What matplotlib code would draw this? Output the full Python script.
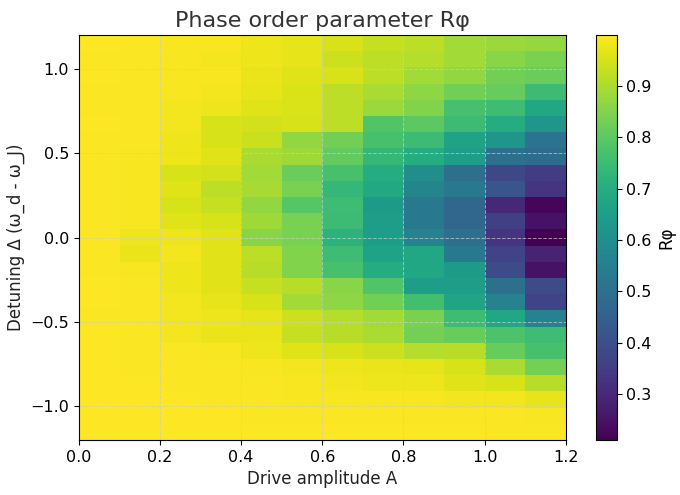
import numpy as np
import matplotlib
matplotlib.use("Agg")
from matplotlib import pyplot as plt

# drive amplitude A (12 columns) and detuning (25 rows), extent of the image
a_min, a_max = 0.0, 1.2
d_min, d_max = -1.2, 1.2

# R_phi, rows listed from top (detuning = +1.15) down to bottom (detuning = -1.15)
R = [
	[0.998, 0.995, 0.990, 0.990, 0.980, 0.970, 0.950, 0.930, 0.920, 0.890, 0.880, 0.875],
	[0.995, 0.995, 0.990, 0.985, 0.980, 0.970, 0.940, 0.920, 0.910, 0.890, 0.860, 0.840],
	[0.998, 0.995, 0.990, 0.990, 0.975, 0.960, 0.950, 0.920, 0.890, 0.870, 0.830, 0.820],
	[0.995, 0.995, 0.990, 0.985, 0.970, 0.955, 0.920, 0.900, 0.865, 0.830, 0.815, 0.750],
	[0.995, 0.993, 0.985, 0.980, 0.960, 0.955, 0.920, 0.880, 0.850, 0.770, 0.755, 0.680],
	[0.998, 0.995, 0.985, 0.950, 0.945, 0.950, 0.920, 0.785, 0.800, 0.750, 0.700, 0.620],
	[0.995, 0.993, 0.980, 0.950, 0.935, 0.870, 0.830, 0.770, 0.750, 0.665, 0.620, 0.510],
	[0.995, 0.990, 0.980, 0.960, 0.900, 0.885, 0.810, 0.735, 0.700, 0.650, 0.500, 0.490],
	[0.995, 0.990, 0.950, 0.945, 0.890, 0.820, 0.770, 0.700, 0.600, 0.500, 0.380, 0.350],
	[0.995, 0.990, 0.960, 0.920, 0.895, 0.840, 0.735, 0.690, 0.570, 0.530, 0.420, 0.330],
	[0.995, 0.990, 0.950, 0.930, 0.870, 0.790, 0.755, 0.640, 0.530, 0.470, 0.300, 0.220],
	[0.995, 0.990, 0.960, 0.950, 0.885, 0.840, 0.750, 0.650, 0.530, 0.470, 0.360, 0.250],
	[0.995, 0.980, 0.980, 0.965, 0.860, 0.840, 0.720, 0.650, 0.560, 0.500, 0.330, 0.210],
	[0.995, 0.975, 0.985, 0.965, 0.920, 0.850, 0.755, 0.665, 0.680, 0.530, 0.370, 0.290],
	[0.995, 0.990, 0.980, 0.960, 0.915, 0.850, 0.770, 0.700, 0.680, 0.640, 0.390, 0.250],
	[0.998, 0.993, 0.980, 0.965, 0.930, 0.915, 0.860, 0.785, 0.650, 0.650, 0.500, 0.390],
	[0.998, 0.993, 0.985, 0.970, 0.950, 0.890, 0.865, 0.830, 0.760, 0.670, 0.560, 0.370],
	[0.995, 0.993, 0.985, 0.980, 0.970, 0.940, 0.910, 0.890, 0.840, 0.755, 0.680, 0.560],
	[0.998, 0.993, 0.985, 0.975, 0.975, 0.930, 0.915, 0.900, 0.835, 0.815, 0.780, 0.755],
	[0.998, 0.995, 0.993, 0.990, 0.980, 0.960, 0.950, 0.940, 0.910, 0.915, 0.815, 0.770],
	[0.997, 0.995, 0.995, 0.995, 0.990, 0.985, 0.980, 0.975, 0.970, 0.950, 0.900, 0.835],
	[0.997, 0.997, 0.995, 0.995, 0.993, 0.990, 0.985, 0.980, 0.980, 0.965, 0.950, 0.915],
	[0.998, 0.997, 0.997, 0.995, 0.995, 0.990, 0.990, 0.990, 0.990, 0.985, 0.985, 0.970],
	[0.998, 0.998, 0.997, 0.997, 0.995, 0.995, 0.995, 0.995, 0.995, 0.993, 0.993, 0.990],
	[0.999, 0.998, 0.998, 0.998, 0.997, 0.997, 0.997, 0.997, 0.997, 0.997, 0.995, 0.995],
]


def main():
	data = np.array(R)

	fig = plt.figure(figsize=(6.8, 4.95), dpi=100)
	ax = fig.add_axes([0.116, 0.111, 0.716, 0.818])
	cax = fig.add_axes([0.876, 0.111, 0.031, 0.818])

	im = ax.imshow(data, origin="upper", aspect="auto", cmap="viridis",
		extent=[a_min, a_max, d_min, d_max], interpolation="nearest")

	ax.set_title("Phase order parameter R\u03c6", fontsize=16, color="#333333")
	ax.set_xlabel("Drive amplitude A", fontsize=12, color="#222222")
	ax.set_ylabel("Detuning \u0394 (\u03c9_d - \u03c9_J)", fontsize=12, color="#222222")
	ax.set_xticks([0.0, 0.2, 0.4, 0.6, 0.8, 1.0, 1.2])
	ax.set_yticks([-1.0, -0.5, 0.0, 0.5, 1.0])
	ax.tick_params(labelsize=11.5)
	ax.grid(True, linestyle="--", linewidth=0.7, color="#cccccc", alpha=0.7)

	cb = fig.colorbar(im, cax=cax)
	cb.set_label("R\u03c6", fontsize=12)
	cb.ax.tick_params(labelsize=11.5)

	fig.savefig("out.png", dpi=100)


if __name__ == '__main__':
	main()
